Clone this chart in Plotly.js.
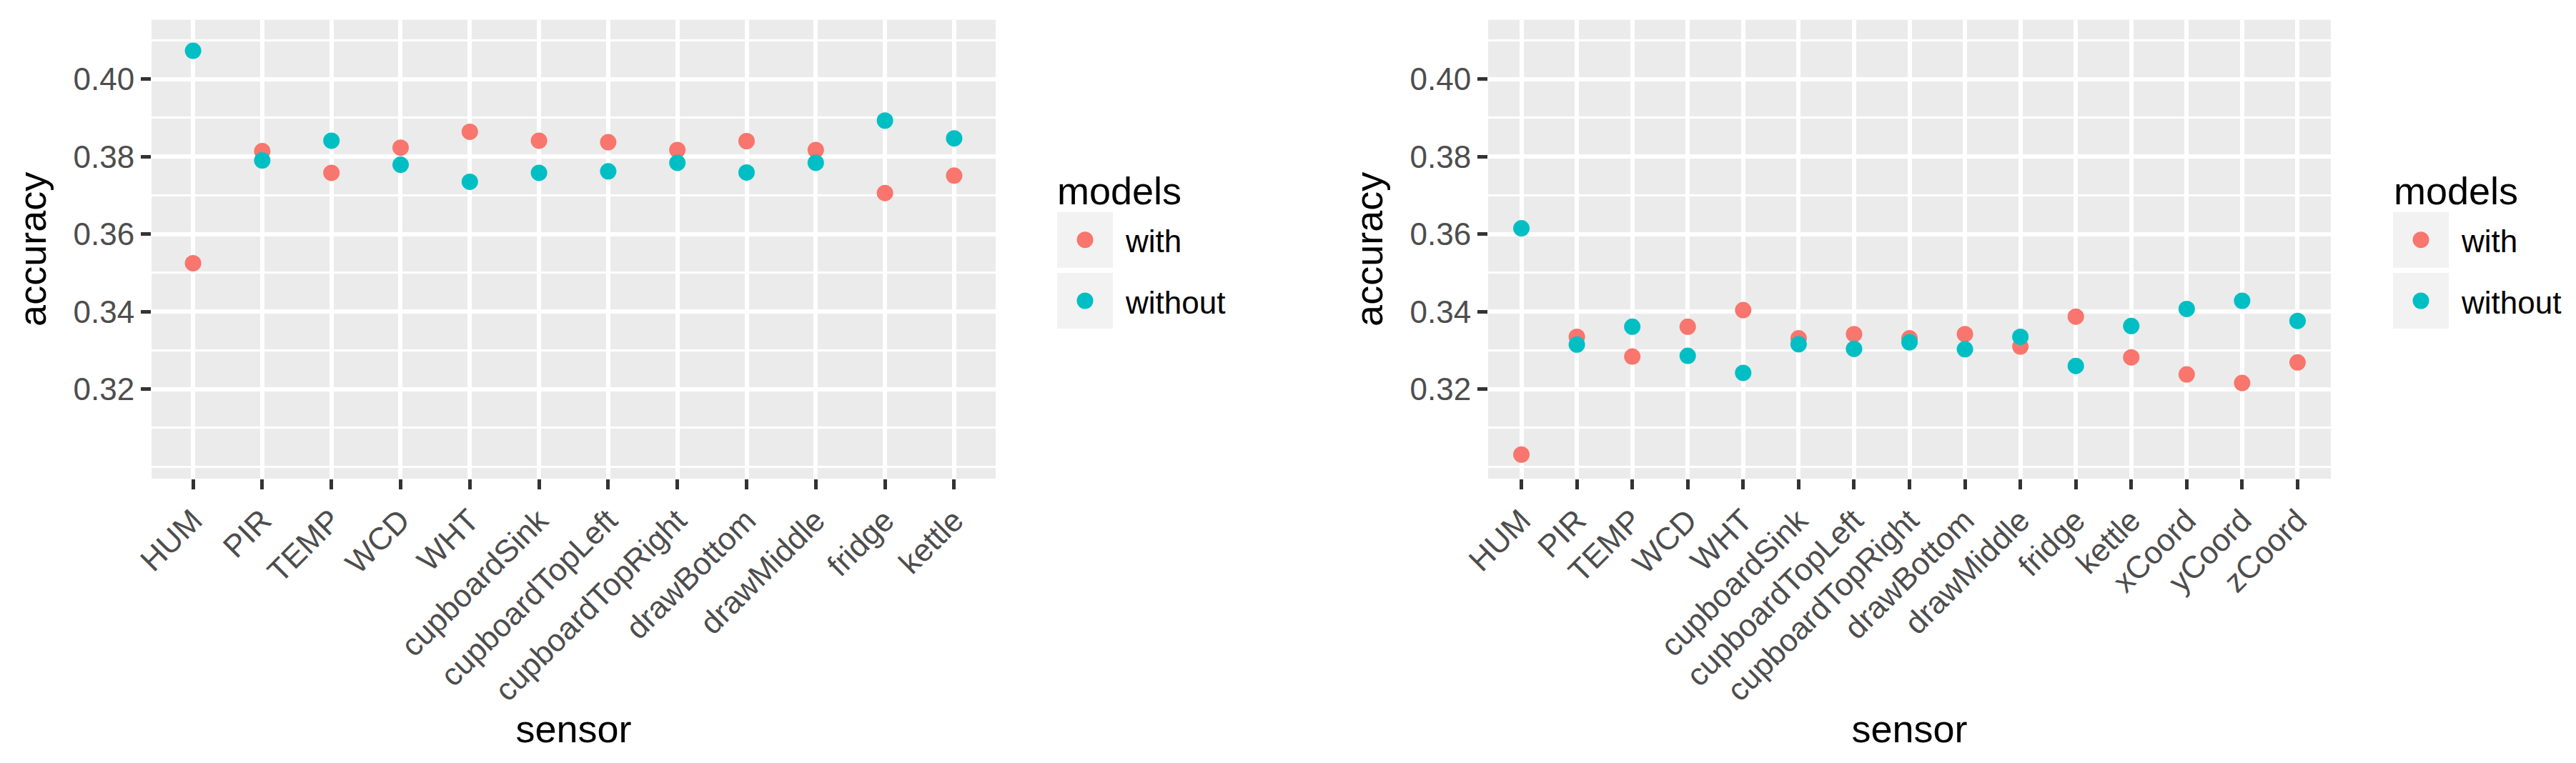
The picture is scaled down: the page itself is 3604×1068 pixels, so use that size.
<!DOCTYPE html>
<html>
<head>
<meta charset="utf-8">
<script src="https://cdn.plot.ly/plotly-3.0.1.min.js"></script>
<style>
  html, body { margin: 0; padding: 0; background: #ffffff; }
  #myDiv { width: 3604px; height: 1068px; }
</style>
</head>
<body>
<div id="myDiv"></div>
<script>
const graphDiv = document.getElementById('myDiv')
const W = 3604, H = 1068

// left panel data
const sensorsA = ['HUM','PIR','TEMP','WCD','WHT','cupboardSink','cupboardTopLeft','cupboardTopRight','drawBottom','drawMiddle','fridge','kettle']
const withA    = [0.3525,0.3814,0.3758,0.3823,0.3864,0.3841,0.3837,0.3817,0.3840,0.3817,0.3706,0.3751]
const withoutA = [0.4073,0.3790,0.3841,0.3779,0.3735,0.3758,0.3762,0.3784,0.3759,0.3784,0.3893,0.3847]

// right panel data
const sensorsB = ['HUM','PIR','TEMP','WCD','WHT','cupboardSink','cupboardTopLeft','cupboardTopRight','drawBottom','drawMiddle','fridge','kettle','xCoord','yCoord','zCoord']
const withB    = [0.3031,0.3335,0.3284,0.3361,0.3404,0.3331,0.3342,0.3331,0.3342,0.3310,0.3387,0.3282,0.3238,0.3216,0.3269]
const withoutB = [0.3615,0.3315,0.3361,0.3286,0.3242,0.3316,0.3304,0.3321,0.3303,0.3335,0.3260,0.3363,0.3407,0.3428,0.3376]

const models = ['with','without']
const colors = ['#F8766D','#00BFC4']
const yTicks = [0.32,0.34,0.36,0.38,0.40]

const font = 'Liberation Sans, Arial, sans-serif'
const px = x => x / W
const py = y => 1 - y / H

function pts(x, y, i, xa, ya){
    return {
        x: x, y: y,
        type: 'scatter', mode: 'markers',
        name: models[i],
        xaxis: xa, yaxis: ya,
        marker: {size: 23, color: colors[i]},
        hoverinfo: 'none',
        showlegend: false,
    }
}

function xAx(dom, n, anchor){
    return {
        domain: dom, anchor: anchor,
        type: 'category',
        range: [-0.6, n - 0.4],
        showgrid: true, gridcolor: '#ffffff', gridwidth: 6,
        zeroline: false, showline: false,
        ticks: 'outside', ticklen: 14, tickwidth: 5, tickcolor: '#333333',
        tickangle: -45,
        tickfont: {family: font, size: 44, color: '#4d4d4d'},
        title: {text: 'sensor', font: {family: font, size: 54, color: '#000000'}, standoff: 8},
        fixedrange: true,
    }
}

function yAx(anchor){
    return {
        domain: [py(670), py(27.7)], anchor: anchor,
        range: [0.2969, 0.4153],
        tickvals: yTicks,
        ticktext: yTicks.map(v => v.toFixed(2)),
        showgrid: true, gridcolor: '#ffffff', gridwidth: 6,
        minor: {tick0: 0.30, dtick: 0.01, showgrid: true, gridcolor: '#ffffff', gridwidth: 3, ticks: ''},
        zeroline: false, showline: false,
        ticks: 'outside', ticklen: 14, tickwidth: 5, tickcolor: '#333333',
        tickfont: {family: font, size: 44, color: '#4d4d4d'},
        title: {text: 'accuracy', font: {family: font, size: 54, color: '#000000'}, standoff: 20},
        fixedrange: true,
    }
}

// hand-made ggplot style legend keys
const shapes = []
const annotations = []
function legend(kx, lx, tx){
    annotations.push({xref: 'paper', yref: 'paper', x: px(tx), y: py(267), xanchor: 'left', yanchor: 'middle',
        text: 'models', showarrow: false, font: {family: font, size: 54, color: '#000000'}})
    const boxes = [[296.7, 374.7], [382, 460]]
    boxes.forEach((b, i) => {
        shapes.push({type: 'rect', xref: 'paper', yref: 'paper', x0: px(kx), x1: px(kx + 78), y0: py(b[1]), y1: py(b[0]),
            fillcolor: '#f2f2f2', line: {width: 0}, layer: 'above'})
        const cx = kx + 39, cy = (b[0] + b[1]) / 2
        shapes.push({type: 'circle', xref: 'paper', yref: 'paper', x0: px(cx - 11.5), x1: px(cx + 11.5), y0: py(cy + 11.5), y1: py(cy - 11.5),
            fillcolor: colors[i], line: {width: 0}, layer: 'above'})
        annotations.push({xref: 'paper', yref: 'paper', x: px(lx), y: py(cy + 2), xanchor: 'left', yanchor: 'middle',
            text: models[i], showarrow: false, font: {family: font, size: 44, color: '#000000'}})
    })
}
legend(1479, 1572, 1477)
legend(3348, 3441, 3347)

const layout = {
    width: W, height: H,
    margin: {l: 0, r: 0, t: 0, b: 0, pad: 0, autoexpand: false},
    paper_bgcolor: '#ffffff',
    plot_bgcolor: '#ebebeb',
    showlegend: false,
    font: {family: font},
    xaxis: xAx([px(212), px(1393)], sensorsA.length, 'y'),
    yaxis: yAx('x'),
    xaxis2: xAx([px(2082), px(3261)], sensorsB.length, 'y2'),
    yaxis2: yAx('x2'),
    shapes: shapes,
    annotations: annotations,
}

const data = [
    pts(sensorsA, withA, 0, 'x', 'y'),
    pts(sensorsA, withoutA, 1, 'x', 'y'),
    pts(sensorsB, withB, 0, 'x2', 'y2'),
    pts(sensorsB, withoutB, 1, 'x2', 'y2'),
]

Plotly.newPlot(graphDiv, data, layout, {displayModeBar: false, staticPlot: true})
</script>
</body>
</html>
